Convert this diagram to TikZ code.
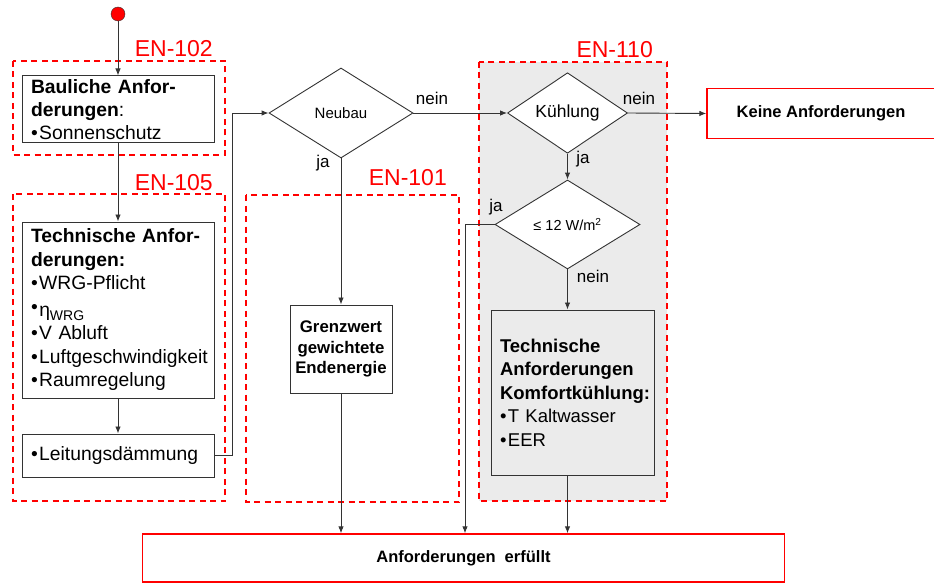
\documentclass[tikz,border=0pt]{standalone}
\usepackage{fontspec}
\setmainfont{Liberation Sans}
\usepackage{tikz}
\usetikzlibrary{shapes.geometric, arrows.meta}

\definecolor{hell}{HTML}{EBEBEB}
\definecolor{linie}{HTML}{333333}
\newcommand{\bul}{•\hspace{1.5pt}}

\tikzset{
  box/.style={draw=linie, line width=1pt, fill=white, inner ysep=0pt, align=left},
  grp/.style={draw=red, line width=1.6pt, dash pattern=on 6pt off 4.5pt},
  enlabel/.style={text=red, font=\fontsize{23}{23}\selectfont, anchor=base east, inner sep=0pt},
  frage/.style={diamond, draw=linie, line width=0.9pt, fill=white, inner sep=0pt},
  lbl/.style={font=\fontsize{17}{17}\selectfont, anchor=base, inner sep=0pt},
  pfeil/.style={draw=linie, line width=0.9pt, -{Latex[length=7pt,width=5.5pt]}},
  ziel/.style={draw=red, line width=1.4pt, fill=white, font=\bfseries\fontsize{16.5}{16.5}\selectfont},
}

\begin{document}
\begin{tikzpicture}[x=1pt, y=-1pt]
\useasboundingbox (0,0) rectangle (934,583);

% Gruppen
\draw[grp, fill=hell] (479,62) rectangle (667,501);
\draw[grp] (13,61) rectangle (225,155);
\draw[grp] (13,194) rectangle (225,501);
\draw[grp] (246,195) rectangle (459,502);
\node[enlabel] (en102) at (213,57) {EN-102};
\node[enlabel] (en105) at (213,190) {EN-105};
\node[enlabel] (en101) at (447,185) {EN-101};
\node[enlabel] (en110) at (653,58) {EN-110};

% linke Spalte
\node (start) at (118,14)[circle, draw=linie, fill=red, minimum size=14pt, inner sep=0pt] {};
\node (bau) at (118,109.5)[box, minimum width=192pt, minimum height=67pt, text width=174pt, inner xsep=9pt,
  font=\fontsize{19.3}{23}\selectfont]
  {\textbf{Bauliche Anfor-}\\\textbf{derungen}:\\\bul Sonnenschutz};
\node (tech) at (118,310)[box, minimum width=192pt, minimum height=176pt, text width=174pt, inner xsep=9pt,
  font=\fontsize{19.3}{23.5}\selectfont]
  {\textbf{Technische Anfor-}\\\textbf{derungen:}\\\bul WRG-Pflicht\\[3pt]%
   \raisebox{3pt}{\bul}η\raisebox{-4pt}{\fontsize{14}{14}\selectfont WRG}\\\bul V Abluft\\\mbox{\bul Luftgeschwindigkeit}\\\bul Raumregelung};
\node (leit) at (118,455.5)[box, minimum width=192pt, minimum height=43pt, text width=174pt, inner xsep=9pt,
  font=\fontsize{19.3}{23}\selectfont] {\bul Leitungsdämmung};

% Entscheidungen
\node (neubau) at (341,113)[frage, minimum width=144pt, minimum height=90pt, font=\fontsize{15}{15}\selectfont] {Neubau};
\node (kuehl) at (567.5,113)[frage, minimum width=120pt, minimum height=76pt, font=\fontsize{17.5}{17.5}\selectfont] {Kühlung};
\node (leq) at (567.5,224.5)[frage, minimum width=145pt, minimum height=89pt, font=\fontsize{14.5}{14.5}\selectfont] {≤ 12 W/m\textsuperscript{2}};

\node (grenz) at (341,349)[box, minimum width=102pt, minimum height=88pt, text width=98pt, inner xsep=2pt, align=center,
  font=\bfseries\fontsize{16.8}{20.5}\selectfont] {Grenzwert\\gewichtete\\Endenergie};
\node (komf) at (572.5,392.5)[box, fill=hell, minimum width=163pt, minimum height=165pt, text width=145pt, inner xsep=9pt,
  font=\fontsize{18.5}{23.5}\selectfont]
  {\textbf{Technische}\\\textbf{Anforderungen}\\\textbf{Komfortkühlung:}\\\bul T Kaltwasser\\\bul EER};

% Ergebnisse
\node (keine) at (851,113.5)[ziel, minimum width=288pt, minimum height=50pt] {\hspace*{-60pt}Keine Anforderungen};
\node (erf) at (463.5,558)[ziel, minimum width=642pt, minimum height=48pt] {Anforderungen\ \ erfüllt};

% Verbindungen
\draw[pfeil] (start) -- (bau);
\draw[pfeil] (bau) -- (tech);
\draw[pfeil] (tech) -- (leit);
\draw[pfeil] (leit.east) -- ++(18,0) |- (neubau.west);
\draw[pfeil] (neubau.east) -- (kuehl.west);
\draw[pfeil] (neubau.south) -- (grenz.north);
\draw[pfeil] (kuehl.east) -- (keine.west);
\draw[pfeil] (kuehl.south) -- (leq.north);
\draw[pfeil] (leq.south) -- (leq.south |- komf.north);
\coordinate (knick) at (465,224.5);
\draw[pfeil] (leq.west) -- (knick) -- (knick |- erf.north);
\draw[pfeil] (grenz.south) -- (grenz.south |- erf.north);
\draw[pfeil] (leq.south |- komf.south) -- (leq.south |- erf.north);

% Beschriftungen
\node[lbl] (nein1) at (432,105) {nein};
\node[lbl] (ja1) at (323,167) {ja};
\node[lbl] (nein2) at (639,105) {nein};
\node[lbl] (ja2) at (583,163) {ja};
\node[lbl] (ja3) at (496,211) {ja};
\node[lbl] (nein3) at (593,282) {nein};
\end{tikzpicture}
\end{document}
